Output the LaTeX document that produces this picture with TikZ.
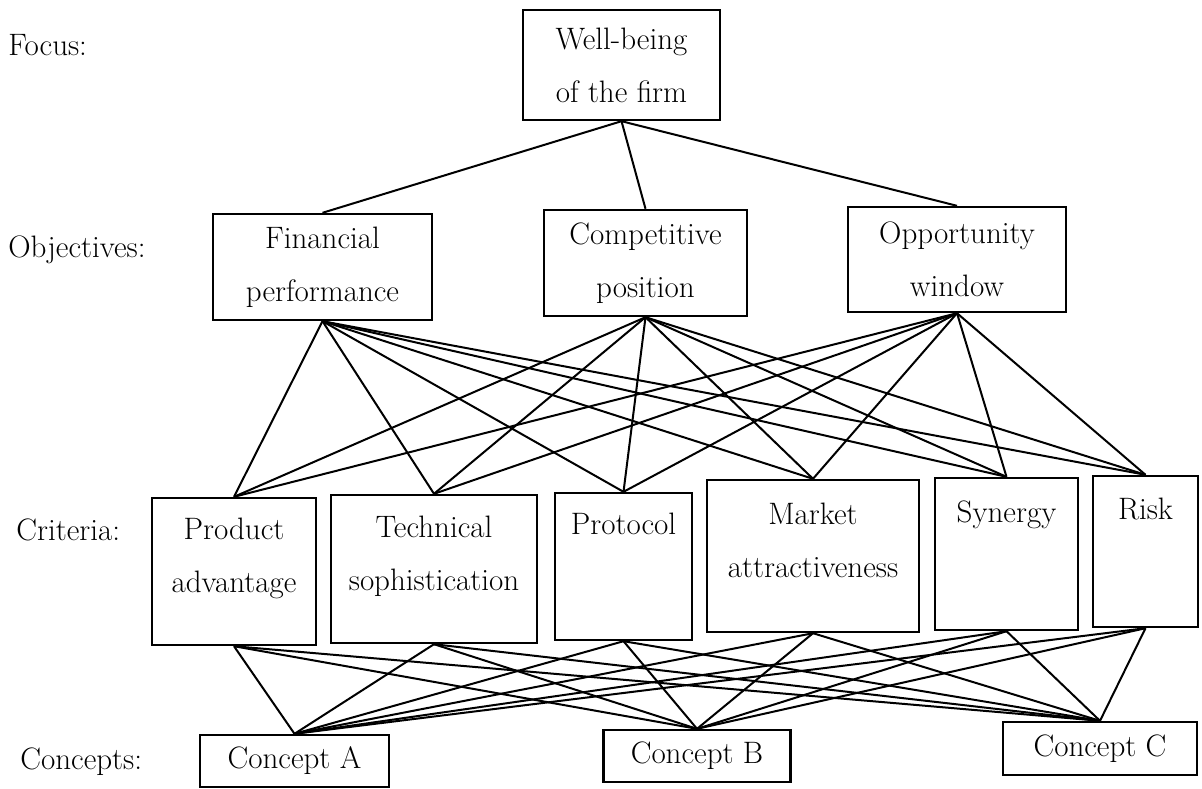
\documentclass[tikz,border=0pt]{standalone}
\usepackage{amsmath, amssymb}
\usepackage{tikz}

\begin{document}
\begin{tikzpicture}[x=0.5pt, y=-0.5pt,
    box/.style={draw, line width=1.2pt, align=center, inner sep=0pt,
        font=\fontsize{15.5}{26.5}\selectfont},
    crit/.style={box, text depth=16pt},
    level/.style={anchor=west, inner sep=0pt, font=\fontsize{15.5}{19}\selectfont},
    link/.style={line width=1pt}]
    \useasboundingbox (0,0) rectangle (1202,788);

    % names of the levels
    \node[level] (lfocus) at (8,45) {Focus:};
    \node[level] (lobj) at (8,250) {Objectives:};
    \node[level] (lcrit) at (16,530) {Criteria:};
    \node[level] (lconc) at (20,762) {Concepts:};

    % focus
    \node[box, minimum width=98.5pt, minimum height=55pt] (focus) at (621.5,65)
        {Well-being\\of the firm};

    % objectives
    \node[box, minimum width=109.5pt, minimum height=53pt] (fin) at (322.5,267)
        {Financial\\performance};
    \node[box, minimum width=101.5pt, minimum height=53pt] (comp) at (645.5,263)
        {Competitive\\position};
    \node[box, minimum width=109pt, minimum height=52.5pt] (opp) at (957,259.5)
        {Opportunity\\window};

    % criteria
    \node[crit, minimum width=82pt, minimum height=73.5pt] (prod) at (234,571.5)
        {Product\\advantage};
    \node[crit, minimum width=103pt, minimum height=74pt] (tech) at (434,569)
        {Technical\\sophistication};
    \node[crit, minimum width=68.5pt, minimum height=73.5pt] (prot) at (623.5,566.5)
        {Protocol\\\mbox{}};
    \node[crit, minimum width=106pt, minimum height=76pt] (mkt) at (813,556)
        {Market\\attractiveness};
    \node[crit, minimum width=71.5pt, minimum height=76pt] (syn) at (1006.5,554)
        {Synergy\\\mbox{}};
    \node[crit, minimum width=52.5pt, minimum height=75.5pt] (risk) at (1145.5,551.5)
        {Risk\\\mbox{}};

    % concepts
    \node[box, minimum width=94.5pt, minimum height=26pt] (ca) at (294.5,761) {Concept A};
    \node[box, minimum width=93.5pt, minimum height=26pt] (cb) at (697,756) {Concept B};
    \node[box, minimum width=97pt, minimum height=26.5pt] (cc) at (1100,748.5) {Concept C};

    % focus to objectives
    \draw[link] (focus.south) -- (fin.north);
    \draw[link] (focus.south) -- (comp.north);
    \draw[link] (focus.south) -- (opp.north);

    % objectives to criteria
    \draw[link] (fin.south) -- (prod.north);
    \draw[link] (fin.south) -- (tech.north);
    \draw[link] (fin.south) -- (prot.north);
    \draw[link] (fin.south) -- (mkt.north);
    \draw[link] (fin.south) -- (syn.north);
    \draw[link] (fin.south) -- (risk.north);

    \draw[link] (comp.south) -- (prod.north);
    \draw[link] (comp.south) -- (tech.north);
    \draw[link] (comp.south) -- (prot.north);
    \draw[link] (comp.south) -- (mkt.north);
    \draw[link] (comp.south) -- (syn.north);
    \draw[link] (comp.south) -- (risk.north);

    \draw[link] (opp.south) -- (prod.north);
    \draw[link] (opp.south) -- (tech.north);
    \draw[link] (opp.south) -- (prot.north);
    \draw[link] (opp.south) -- (mkt.north);
    \draw[link] (opp.south) -- (syn.north);
    \draw[link] (opp.south) -- (risk.north);

    % criteria to concepts
    \draw[link] (prod.south) -- (ca.north);
    \draw[link] (prod.south) -- (cb.north);
    \draw[link] (prod.south) -- (cc.north);

    \draw[link] (tech.south) -- (ca.north);
    \draw[link] (tech.south) -- (cb.north);
    \draw[link] (tech.south) -- (cc.north);

    \draw[link] (prot.south) -- (ca.north);
    \draw[link] (prot.south) -- (cb.north);
    \draw[link] (prot.south) -- (cc.north);

    \draw[link] (mkt.south) -- (ca.north);
    \draw[link] (mkt.south) -- (cb.north);
    \draw[link] (mkt.south) -- (cc.north);

    \draw[link] (syn.south) -- (ca.north);
    \draw[link] (syn.south) -- (cb.north);
    \draw[link] (syn.south) -- (cc.north);

    \draw[link] (risk.south) -- (ca.north);
    \draw[link] (risk.south) -- (cb.north);
    \draw[link] (risk.south) -- (cc.north);
\end{tikzpicture}
\end{document}
